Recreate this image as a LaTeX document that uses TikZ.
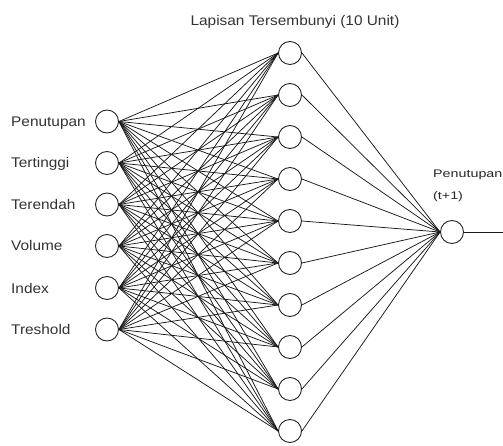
\documentclass[tikz,border=0pt]{standalone}
\usepackage{fontspec}
\newfontfamily\labfont[FakeStretch=1.1]{Liberation Sans}
\newfontfamily\smallfont[FakeStretch=1.3]{Liberation Sans}
\begin{document}
\begin{tikzpicture}[x=1pt,y=-1pt,
  neuron/.style={circle,draw=black!85,line width=0.9pt,minimum size=23pt,inner sep=0pt},
  conn/.style={draw=black!90,line width=0.75pt},
  lab/.style={anchor=base west,inner sep=0pt,font=\labfont\fontsize{14}{16}\selectfont,text=black!80}]
\useasboundingbox (0,0) rectangle (503,446);
% input layer
\foreach \i/\y/\t in {1/121.5/Penutupan,2/163/Tertinggi,3/204.5/Terendah,4/246/Volume,5/288/Index,6/329.5/Treshold}{
  \node[neuron] (in\i) at (107,\y) {};
  \node[lab] (lab\i) at (11,\y+5) {\t};
}
% hidden layer
\foreach \j in {1,...,10}{
  \node[neuron] (h\j) at (290,{53+42*(\j-1)}) {};
}
% output
\node[neuron] (out) at (452,232) {};
\coordinate (end) at (503,232);
% labels
\node[inner sep=0pt,font=\labfont\fontsize{14}{16}\selectfont,text=black!80] (top) at (295,22) {Lapisan Tersembunyi (10 Unit)};
\node[anchor=base west,inner sep=0pt,font=\smallfont\fontsize{11}{13}\selectfont,text=black!85] (olab1) at (433,178) {Penutupan};
\node[anchor=base west,inner sep=0pt,font=\smallfont\fontsize{11}{13}\selectfont,text=black!85] (olab2) at (433,200) {(t+1)};
% connections
\foreach \i in {1,...,6}{
  \foreach \j in {1,...,10}{
    \draw[conn] (in\i.east) -- (h\j.west);
  }
}
\foreach \j in {1,...,10}{
  \draw[conn] (h\j.east) -- (out.west);
}
\draw[conn] (out.east) -- (end);
\end{tikzpicture}
\end{document}
